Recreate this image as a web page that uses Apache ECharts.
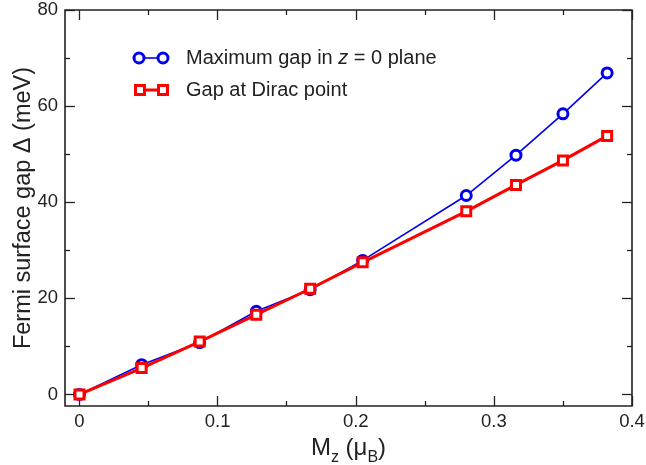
<!DOCTYPE html>
<html>
<head>
<meta charset="utf-8">
<script src="https://cdn.jsdelivr.net/npm/echarts@6/dist/echarts.min.js"></script>
<style>
html,body{margin:0;padding:0;background:#fff;}
#chart{width:646px;height:465px;}
</style>
</head>
<body>
<div id="chart"></div>
<script>
// ---- data ----
const mzValues = [0, 0.045, 0.087, 0.128, 0.167, 0.205, 0.28, 0.316, 0.35, 0.382];
const maxGapZ0 = [0, 6.2, 10.8, 17.3, 21.8, 27.9, 41.4, 49.8, 58.4, 66.9];
const gapDirac = [0, 5.5, 11.0, 16.6, 22.0, 27.5, 38.1, 43.6, 48.7, 53.8];
const xMajorTicks = [0, 0.1, 0.2, 0.3, 0.4];
const xMinorTicks = [0.05, 0.15, 0.25, 0.35];
const yMajorTicks = [0, 20, 40, 60, 80];
const yMinorTicks = [10, 30, 50, 70];
const seriesNames = ['Maximum gap in z = 0 plane', 'Gap at Dirac point'];

const FONT = "'Liberation Sans', Arial, Helvetica, sans-serif";
const TXT = '#222';
const AX = '#222';
const X_MIN = -0.0105, X_MAX = 0.4, Y_MIN = -2.4, Y_MAX = 80;
const gridRect = {left: 65, right: 14, top: 10, bottom: 59};

const chart = echarts.init(document.getElementById('chart'));

function xAx(gi, pos, ticks, len, labels, extra) {
  return Object.assign({
    type: 'value', gridIndex: gi, position: pos, min: X_MIN, max: X_MAX,
    axisLine: {show: false, onZero: false},
    axisTick: {show: true, inside: true, length: len, customValues: ticks, lineStyle: {color: AX, width: 1.3}},
    axisLabel: labels ? {show: true, customValues: ticks, color: TXT, fontSize: 18.5, fontFamily: FONT, margin: 6,
      formatter: v => (Math.abs(v) < 1e-9 ? '0' : String(+v.toFixed(2)))} : {show: false},
    splitLine: {show: false}
  }, extra || {});
}
function yAx(gi, pos, ticks, len, labels, extra) {
  return Object.assign({
    type: 'value', gridIndex: gi, position: pos, min: Y_MIN, max: Y_MAX,
    axisLine: {show: false, onZero: false},
    axisTick: {show: true, inside: true, length: len, customValues: ticks, lineStyle: {color: AX, width: 1.3}},
    axisLabel: labels ? {show: true, customValues: ticks, color: TXT, fontSize: 18.5, fontFamily: FONT, margin: 7} : {show: false},
    splitLine: {show: false}
  }, extra || {});
}

const grids = [0,1,2,3].map(i => Object.assign({
  show: i === 0, borderColor: AX, borderWidth: 1.6, backgroundColor: 'transparent',
  containLabel: false, outerBoundsMode: 'none'
}, gridRect));

const option = {
  animation: false,
  backgroundColor: '#fff',
  grid: grids,
  xAxis: [
    xAx(0, 'bottom', xMajorTicks, 10, true, {
      name: '{a|M}{s|z}{a| (μ}{s|B}{a|)}',
      nameLocation: 'middle', nameGap: 23,
      nameTextStyle: {color: TXT, fontFamily: FONT, rich: {
        a: {fontSize: 24, fontFamily: FONT, color: TXT, lineHeight: 26, verticalAlign: 'top'},
        s: {fontSize: 16, fontFamily: FONT, color: TXT, lineHeight: 17, padding: [14, 0, 0, 0], verticalAlign: 'top'}
      }}
    }),
    xAx(1, 'top', xMajorTicks, 10, false),
    xAx(2, 'bottom', xMinorTicks, 5, false),
    xAx(3, 'top', xMinorTicks, 5, false)
  ],
  yAxis: [
    yAx(0, 'left', yMajorTicks, 10, true, {
      name: 'Fermi surface gap Δ (meV)', nameLocation: 'middle', nameGap: 29, nameMoveOverlap: false,
      nameTextStyle: {color: TXT, fontFamily: FONT, fontSize: 23.5}
    }),
    yAx(1, 'right', yMajorTicks, 10, false),
    yAx(2, 'left', yMinorTicks, 5, false),
    yAx(3, 'right', yMinorTicks, 5, false)
  ],
  series: [
    {
      name: seriesNames[0], type: 'line', xAxisIndex: 0, yAxisIndex: 0,
      data: mzValues.map((x, i) => [x, maxGapZ0[i]]),
      lineStyle: {color: '#0000ee', width: 1.6},
      symbol: 'circle', symbolSize: 10,
      itemStyle: {color: '#fff', borderColor: '#0000ee', borderWidth: 3},
      z: 2
    },
    {
      name: seriesNames[1], type: 'line', xAxisIndex: 0, yAxisIndex: 0,
      data: mzValues.map((x, i) => [x, gapDirac[i]]),
      lineStyle: {color: '#ff0000', width: 3},
      symbol: 'rect', symbolSize: 9,
      itemStyle: {color: '#fff', borderColor: '#ff0000', borderWidth: 3},
      z: 3
    }
  ],
  graphic: [
    {type: 'line', shape: {x1: 139, y1: 58, x2: 163, y2: 58}, style: {stroke: '#0000ee', lineWidth: 1.6}},
    {type: 'circle', shape: {cx: 139, cy: 58, r: 5}, style: {fill: '#fff', stroke: '#0000ee', lineWidth: 3}},
    {type: 'circle', shape: {cx: 163, cy: 58, r: 5}, style: {fill: '#fff', stroke: '#0000ee', lineWidth: 3}},
    {type: 'text', x: 186, y: 58, style: {
      text: '{n|Maximum gap in }{i|z}{n| = 0 plane}', verticalAlign: 'middle', fill: TXT,
      rich: {n: {fontSize: 20, fontFamily: FONT, fill: TXT}, i: {fontSize: 20, fontFamily: FONT, fontStyle: 'italic', fill: TXT}}
    }},
    {type: 'line', shape: {x1: 140, y1: 90, x2: 163, y2: 90}, style: {stroke: '#ff0000', lineWidth: 3}},
    {type: 'rect', shape: {x: 135.5, y: 85.5, width: 9, height: 9}, style: {fill: '#fff', stroke: '#ff0000', lineWidth: 3}},
    {type: 'rect', shape: {x: 158.5, y: 85.5, width: 9, height: 9}, style: {fill: '#fff', stroke: '#ff0000', lineWidth: 3}},
    {type: 'text', x: 186, y: 90, style: {
      text: seriesNames[1], verticalAlign: 'middle', fill: TXT, fontSize: 20, fontFamily: FONT
    }}
  ]
};
chart.setOption(option);
</script>
</body>
</html>
